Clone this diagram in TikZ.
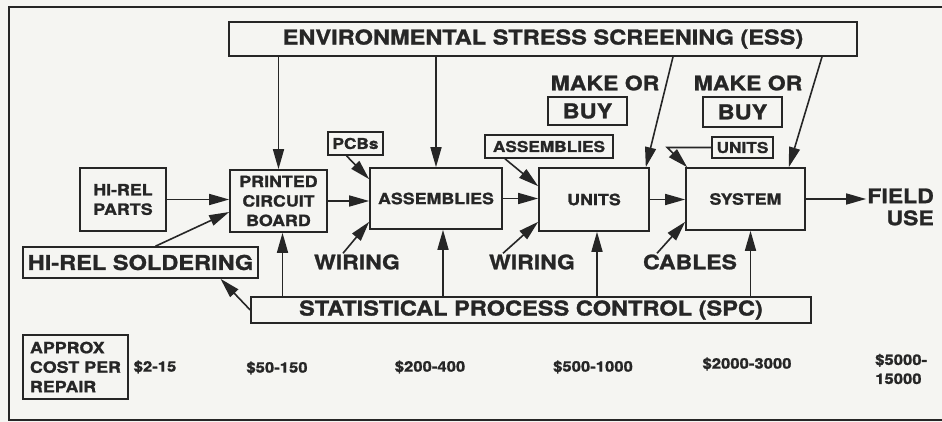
\documentclass[tikz,border=0pt]{standalone}
\usepackage{fontspec}
\setmainfont{TeX Gyre Heros}[FakeStretch=1.15, BoldFeatures={FakeBold=1.2}]
\usepackage{tikz}
\usetikzlibrary{arrows.meta}
\definecolor{ScanInk}{HTML}{262626}
\definecolor{ScanPaper}{HTML}{F5F5F2}

\begin{document}
\begin{tikzpicture}[
        x=1pt, y=-1pt,
        font=\bfseries, text=ScanInk,
        box/.style={
          draw=ScanInk,
          line width=1.6pt,
          align=center,
          inner sep=2pt,
          font=\fontsize{15.5}{19.5}\selectfont\bfseries
        },
        banner/.style={
          draw=ScanInk,
          line width=1.6pt,
          inner sep=2pt,
          font=\fontsize{20.5}{24}\selectfont\bfseries
        },
        tag/.style={
          draw=ScanInk,
          line width=1.6pt,
          inner sep=1.5pt,
          font=\fontsize{15}{18}\selectfont\bfseries
        },
        word/.style={align=center, inner sep=1pt, font=\fontsize{20}{22}\selectfont\bfseries},
        cost/.style={align=left, inner sep=0pt, font=\fontsize{14.5}{19}\selectfont\bfseries},
        arrow/.style={-{Triangle[length=20pt,width=11pt]}, line width=1.6pt, draw=ScanInk}
      ]
        \fill[ScanPaper] (0,0) rectangle (942,422);
        \useasboundingbox (0,0) rectangle (942,422);
        \draw[ScanInk, line width=1.2pt] (942,7) -- (9,7) -- (9,420) -- (942,420);

        % screening and process control
        \node[banner, minimum width=628pt, minimum height=34pt] (ess) at (543,39) {ENVIRONMENTAL STRESS SCREENING (ESS)};
        \node[banner, minimum width=560pt, minimum height=26pt] (spc) at (531,310) {STATISTICAL PROCESS CONTROL (SPC)};
        \node[banner, minimum width=235pt, minimum height=31pt] (solder) at (140.5,262.5) {HI-REL SOLDERING};

        % main flow
        \node[box, minimum width=86pt, minimum height=63pt] (parts) at (123,199.5) {HI-REL\\PARTS};
        \node[box, minimum width=97pt, minimum height=62pt] (pcb) at (278.5,201) {PRINTED\\CIRCUIT\\BOARD};
        \node[box, minimum width=132pt, minimum height=61pt] (asm) at (436,198.5) {ASSEMBLIES};
        \node[box, minimum width=110pt, minimum height=63pt] (units) at (594,199.5) {UNITS};
        \node[box, minimum width=119pt, minimum height=62pt] (system) at (745.5,199) {SYSTEM};
        \node[word, align=right, anchor=east] (field) at (935,207) {FIELD\\USE};

        % inputs
        \node[tag, minimum width=55pt, minimum height=23pt] (pcbs) at (355.5,143.5) {PCBs};
        \node[tag, minimum width=128pt, minimum height=23pt] (asmtag) at (549,146.5) {ASSEMBLIES};
        \node[tag, minimum width=61pt, minimum height=21pt] (unitstag) at (742.5,147.5) {UNITS};
        \node[word] (make1) at (605,83) {MAKE OR};
        \node[banner, minimum width=79pt, minimum height=28pt] (buy1) at (587.5,111) {BUY};
        \node[word] (make2) at (748,83) {MAKE OR};
        \node[banner, minimum width=79pt, minimum height=30pt] (buy2) at (742.5,112) {BUY};
        \node[word] (wiring1) at (357,262) {WIRING};
        \node[word] (wiring2) at (532,262) {WIRING};
        \node[word] (cables) at (690,262) {CABLES};

        % repair cost row
        \node[box, align=left, minimum width=105pt, minimum height=64pt] (approx) at (75.5,367) {APPROX\\COST PER\\REPAIR};
        \node[cost] (c1) at (155,367) {\$2-15};
        \node[cost] (c2) at (277,368) {\$50-150};
        \node[cost] (c3) at (430,367) {\$200-400};
        \node[cost] (c4) at (593,367) {\$500-1000};
        \node[cost] (c5) at (747,364) {\$2000-3000};
        \node[cost, anchor=west] (c6) at (875,369) {\$5000-\\15000};

        \draw[arrow] (ess.south -| pcb.north) -- (pcb.north);
        \draw[arrow] (ess.south -| asm.north) -- (asm.north);
        \draw[arrow] ([xshift=130pt]ess.south) -- ([xshift=-4pt]units.north east);
        \draw[arrow] ([xshift=279pt]ess.south) -- ([xshift=-17pt]system.north east);

        \draw[arrow] (parts.east) -- (parts.east -| pcb.west);
        \draw[arrow] (pcb.east) -- (pcb.east -| asm.west);
        \draw[arrow] (asm.east) -- (asm.east -| units.west);
        \draw[arrow] (units.east) -- (units.east -| system.west);
        \draw[arrow] (system.east) -- (system.east -| field.west);

        \draw[arrow] ([xshift=15pt]solder.north) -- ([yshift=-11pt]pcb.west);
        \draw[arrow] (spc.west) -- ([xshift=80pt]solder.south);
        \draw[arrow] ([xshift=4pt]pcb.south |- spc.north) -- ([xshift=4pt]pcb.south);
        \draw[arrow] ([xshift=7pt]asm.south |- spc.north) -- ([xshift=7pt]asm.south);
        \draw[arrow] ([xshift=3pt]units.south |- spc.north) -- ([xshift=3pt]units.south);
        \draw[arrow] ([xshift=5pt]system.south |- spc.north) -- ([xshift=5pt]system.south);

        \draw[arrow] ([xshift=-14pt]wiring1.north) -- ([yshift=8pt]asm.south west);
        \draw[arrow] ([xshift=-29pt]wiring2.north) -- ([yshift=10pt]units.south west);
        \draw[arrow] ([xshift=-33pt]cables.north) -- ([yshift=9pt]system.south west);
        \draw[arrow] ([xshift=-9pt]pcbs.south) -- ([yshift=-12pt]asm.north west);
        \draw[arrow] ([xshift=-44pt]asmtag.south) -- ([yshift=-19pt]units.north west);
        \draw[arrow] (unitstag.west) -- ++(-44,0) -- ([xshift=2pt]system.north west);
      \end{tikzpicture}
\end{document}
